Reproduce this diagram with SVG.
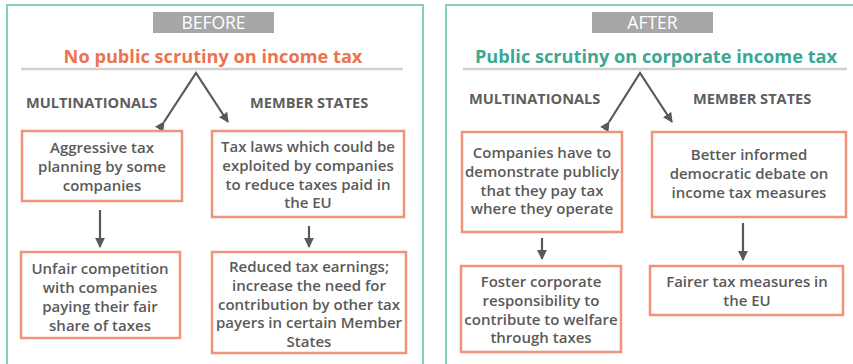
<svg xmlns="http://www.w3.org/2000/svg" width="853" height="364" viewBox="0 0 853 364">
<defs>
<style>
.panel{fill:#ffffff;stroke:#86d0c2;stroke-width:2}
.tag{fill:#a7a7a7}
.tagt{font-family:"Open Sans","Liberation Sans",sans-serif;font-size:17.5px;fill:#ffffff;text-anchor:middle}
.title{font-family:"Open Sans","Liberation Sans",sans-serif;font-size:18.2px;font-weight:700;text-anchor:middle}
.rule{stroke:#d2cfcd;stroke-width:2.5}
.hdr{font-family:"Open Sans","Liberation Sans",sans-serif;font-size:14.6px;font-weight:700;fill:#5e5e5e}
.box{fill:#ffffff;stroke:#f0937a;stroke-width:2.5}
.bt{font-family:"Open Sans","Liberation Sans",sans-serif;font-size:15px;font-weight:600;fill:#5a5a5a;text-anchor:middle}
.con{stroke:#555a5e;stroke-width:2.2;fill:none}
</style>
<marker id="ah" viewBox="0 0 10 10" refX="9" refY="5" markerWidth="4.5" markerHeight="4.5" orient="auto" markerUnits="strokeWidth">
<path d="M0,0 L10,5 L0,10 z" fill="#555a5e"/>
</marker>
</defs>
<rect width="853" height="364" fill="#ffffff"/>
<g id="panel-before">
<rect class="panel" x="7" y="5" width="416" height="370"/>
<rect class="tag" x="153" y="12" width="121" height="21"/>
<text class="tagt" x="213.5" y="29">BEFORE</text>
<text class="title" x="213" y="63" fill="#ec7350">No public scrutiny on income tax</text>
<line class="rule" x1="21" y1="69" x2="403" y2="69"/>
<text class="hdr" x="26" y="108">MULTINATIONALS</text>
<text class="hdr" x="250" y="108">MEMBER STATES</text>
</g>
<g id="panel-after">
<rect class="panel" x="446" y="5" width="420" height="370"/>
<rect class="tag" x="592" y="12" width="121" height="21"/>
<text class="tagt" x="652.5" y="29">AFTER</text>
<text class="title" x="656" y="63" fill="#3aa894">Public scrutiny on corporate income tax</text>
<line class="rule" x1="463" y1="69" x2="847" y2="69"/>
<text class="hdr" x="469" y="104">MULTINATIONALS</text>
<text class="hdr" x="693" y="104">MEMBER STATES</text>
</g>
<g id="connectors">
<polyline class="con" points="164,122 196,73 228,122" marker-start="url(#ah)" marker-end="url(#ah)"/>
<line class="con" x1="100" y1="210" x2="100" y2="247" marker-end="url(#ah)"/>
<line class="con" x1="309" y1="226" x2="309" y2="247" marker-end="url(#ah)"/>
<polyline class="con" points="609,122 640,73 672,122" marker-start="url(#ah)" marker-end="url(#ah)"/>
<line class="con" x1="542" y1="238" x2="542" y2="259" marker-end="url(#ah)"/>
<line class="con" x1="743" y1="223" x2="743" y2="260" marker-end="url(#ah)"/>
</g>
<g id="n1">
<rect class="box" x="22" y="131" width="160" height="70"/>
<text class="bt" x="102" y="153">Aggressive tax</text>
<text class="bt" x="102" y="172">planning by some</text>
<text class="bt" x="102" y="191">companies</text>
</g>
<g id="n2">
<rect class="box" x="212" y="131" width="192" height="86"/>
<text class="bt" x="308" y="152">Tax laws which could be</text>
<text class="bt" x="308" y="170.8">exploited by companies</text>
<text class="bt" x="308" y="189.6">to reduce taxes paid in</text>
<text class="bt" x="308" y="208.4">the EU</text>
</g>
<g id="n3">
<rect class="box" x="21" y="252" width="159" height="86"/>
<text class="bt" x="100" y="274">Unfair competition</text>
<text class="bt" x="100" y="293">with companies</text>
<text class="bt" x="100" y="312">paying their fair</text>
<text class="bt" x="100" y="331">share of taxes</text>
</g>
<g id="n4">
<rect class="box" x="212" y="252" width="194" height="101"/>
<text class="bt" x="309" y="272">Reduced tax earnings;</text>
<text class="bt" x="309" y="290.8">increase the need for</text>
<text class="bt" x="309" y="309.6">contribution by other tax</text>
<text class="bt" x="309" y="328.4">payers in certain Member</text>
<text class="bt" x="309" y="347.2">States</text>
</g>
<g id="n5">
<rect class="box" x="462" y="132" width="160" height="100"/>
<text class="bt" x="542" y="158">Companies have to</text>
<text class="bt" x="542" y="176.8">demonstrate publicly</text>
<text class="bt" x="542" y="195.6">that they pay tax</text>
<text class="bt" x="542" y="214.4">where they operate</text>
</g>
<g id="n6">
<rect class="box" x="652" y="132" width="194" height="85"/>
<text class="bt" x="749" y="160">Better informed</text>
<text class="bt" x="749" y="179">democratic debate on</text>
<text class="bt" x="749" y="198">income tax measures</text>
</g>
<g id="n7">
<rect class="box" x="461" y="266" width="160" height="86"/>
<text class="bt" x="541" y="287">Foster corporate</text>
<text class="bt" x="541" y="305.8">responsibility to</text>
<text class="bt" x="541" y="324.6">contribute to welfare</text>
<text class="bt" x="541" y="343.4">through taxes</text>
</g>
<g id="n8">
<rect class="box" x="650" y="266" width="193" height="49"/>
<text class="bt" x="747" y="287">Fairer tax measures in</text>
<text class="bt" x="747" y="306">the EU</text>
</g>
</svg>
